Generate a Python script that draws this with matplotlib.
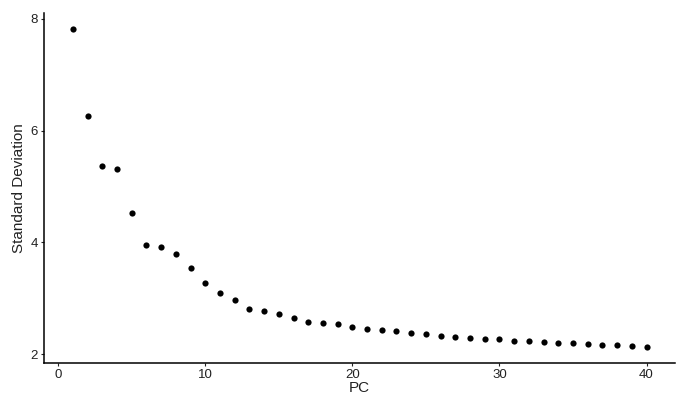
import numpy as np
import matplotlib
matplotlib.use("Agg")
import matplotlib.pyplot as plt

plt.rcParams['font.family'] = ['Liberation Sans', 'DejaVu Sans']

# elbow plot data
pcs = np.arange(1, 41)
std_dev = [7.82, 6.26, 5.36, 5.31, 4.52, 3.95, 3.91, 3.79, 3.54, 3.27,
           3.09, 2.96, 2.81, 2.78, 2.72, 2.64, 2.58, 2.56, 2.53, 2.49,
           2.45, 2.44, 2.41, 2.37, 2.36, 2.32, 2.30, 2.29, 2.27, 2.27,
           2.24, 2.24, 2.22, 2.20, 2.19, 2.18, 2.17, 2.17, 2.15, 2.13]
x_ticks = [0, 10, 20, 30, 40]
y_ticks = [2, 4, 6, 8]

fig = plt.figure(figsize=(6.8, 3.96), dpi=100)
ax = fig.add_axes([0.065, 0.084, 0.928, 0.883])

ax.scatter(pcs, std_dev, s=20, color='black', linewidths=0)

# ggplot style expansion
span_x = pcs.max() - pcs.min()
span_y = max(std_dev) - min(std_dev)
ax.set_xlim(pcs.min() - 0.05 * span_x, pcs.max() + 0.05 * span_x)
ax.set_ylim(min(std_dev) - 0.05 * span_y, max(std_dev) + 0.05 * span_y)

ax.set_xticks(x_ticks)
ax.set_yticks(y_ticks)
ax.tick_params(labelsize=9.5, length=2.5, width=0.8, colors='#222222', pad=2)

for side in ['top', 'right']:
    ax.spines[side].set_visible(False)
for side in ['left', 'bottom']:
    ax.spines[side].set_linewidth(1.1)

ax.set_xlabel('PC', fontsize=11, labelpad=0, color='#222222')
ax.set_ylabel('Standard Deviation', fontsize=11, labelpad=3, color='#222222')

plt.savefig('out.png', dpi=100)
